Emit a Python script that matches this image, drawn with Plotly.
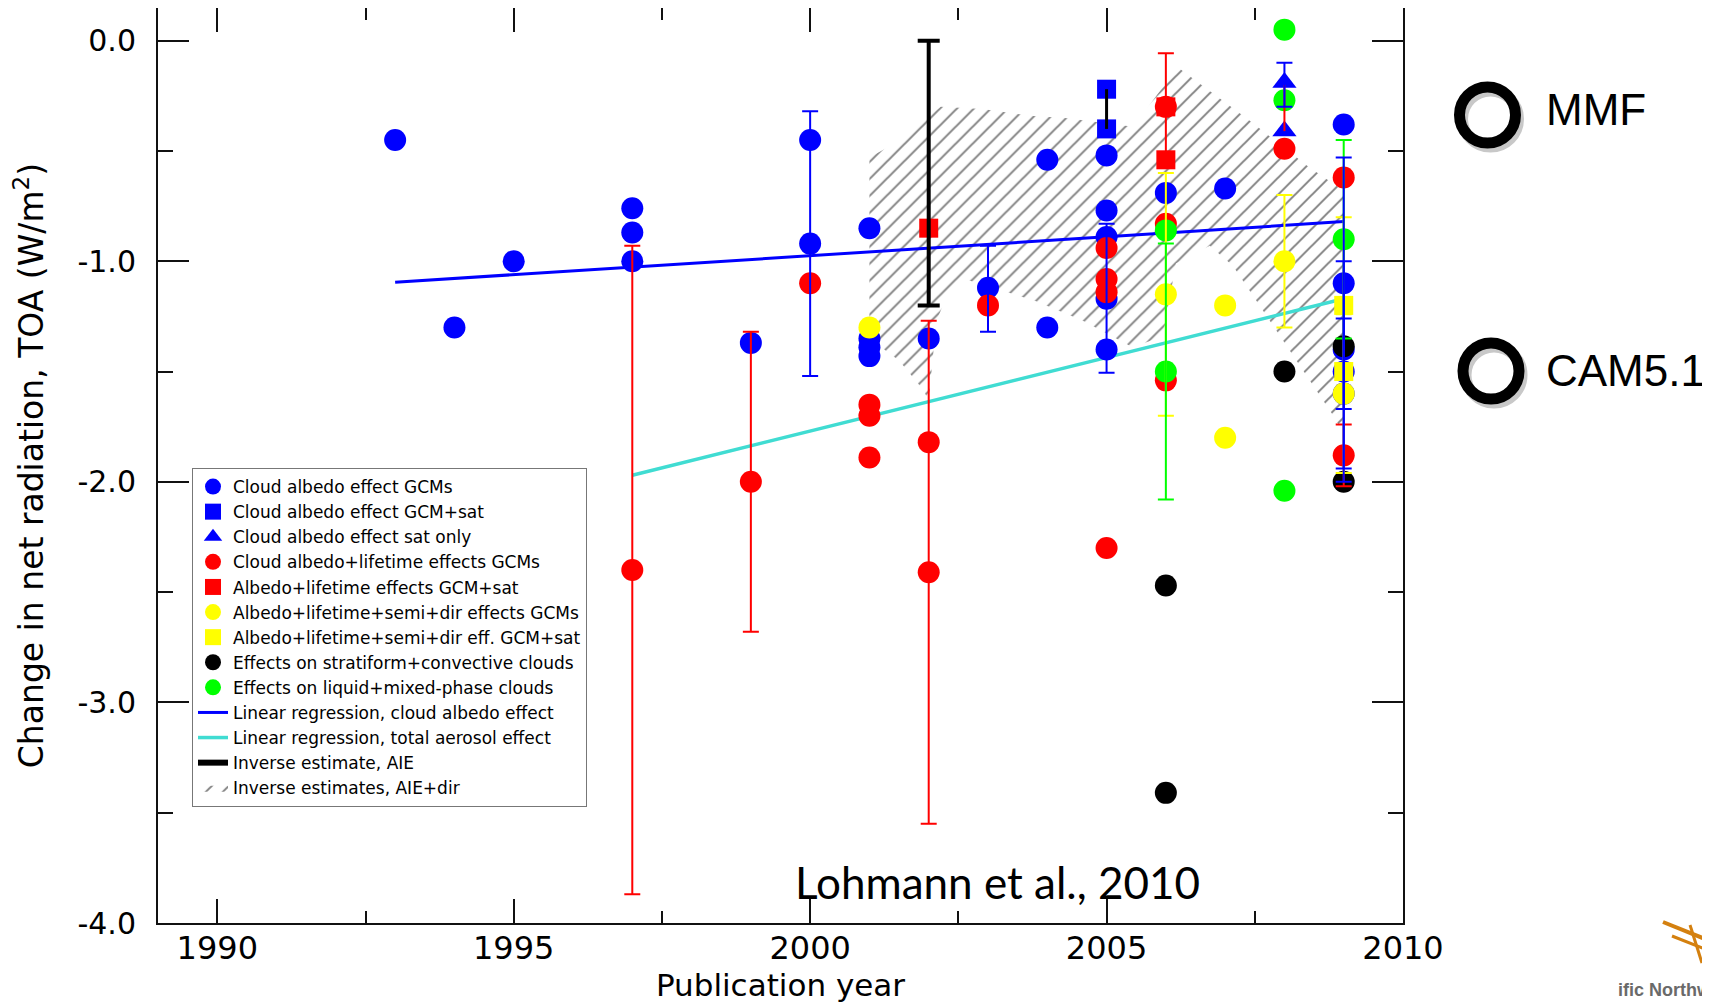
import plotly.graph_objects as go

# ---------------- data ----------------
blue_circ_x = [1993, 1994, 1995, 1997, 1997, 1997, 1999, 2000, 2000, 2001, 2001, 2001, 2001,
               2002, 2003, 2004, 2004, 2005, 2005, 2005, 2005, 2005, 2006, 2007,
               2009, 2009, 2009, 2009, 2009]
blue_circ_y = [-0.45, -1.30, -1.00, -0.76, -0.87, -1.00, -1.37, -0.45, -0.92, -0.85, -1.35, -1.39, -1.43,
               -1.35, -1.12, -0.54, -1.30, -0.52, -0.77, -0.89, -1.17, -1.40, -0.69, -0.67,
               -0.38, -1.10, -1.40, -1.50, -1.60]

blue_sq_x = [2005, 2005]
blue_sq_y = [-0.22, -0.40]

blue_tri_x = [2008, 2008]
blue_tri_y = [-0.19, -0.41]

red_circ_x = [1997, 1999, 2000, 2001, 2001, 2001, 2002, 2002, 2003, 2005, 2005, 2005, 2005,
              2006, 2006, 2006, 2008, 2009, 2009]
red_circ_y = [-2.40, -2.00, -1.10, -1.65, -1.70, -1.89, -1.82, -2.41, -1.20, -0.94, -1.08, -1.14, -2.30,
              -0.30, -0.83, -1.54, -0.49, -0.62, -1.88]

red_sq_x = [2002, 2006, 2006]
red_sq_y = [-0.85, -0.30, -0.54]

yellow_circ_x = [2001, 2006, 2007, 2007, 2008, 2009]
yellow_circ_y = [-1.30, -1.15, -1.20, -1.80, -1.00, -1.60]

yellow_sq_x = [2009, 2009]
yellow_sq_y = [-1.20, -1.50]

black_circ_x = [2006, 2006, 2008, 2009, 2009]
black_circ_y = [-2.47, -3.41, -1.50, -1.385, -2.00]

green_circ_x = [2006, 2006, 2008, 2008, 2008, 2009]
green_circ_y = [-0.86, -1.50, 0.05, -0.27, -2.04, -0.90]

# error bars (drawn on top of all markers)
blue_err_x = [2000, 2003, 2005, 2008, 2009, 2009, 2009]
blue_err_y = [-0.92, -1.12, -1.17, -0.20, -1.10, -1.50, -1.60]
blue_err_plus = [0.60, 0.19, 0.34, 0.10, 0.57, 0.50, 0.34]
blue_err_minus = [0.60, 0.20, 0.335, 0.10, 0.57, 0.50, 0.34]

red_err_x = [1997, 1999, 2002, 2006, 2009]
red_err_y = [-2.40, -2.00, -2.41, -0.30, -1.88]
red_err = [1.47, 0.68, 1.14, 0.243, 0.14]

red_seg_x = [2008]
red_seg_y = [-0.305]
red_seg_err = [0.105]

yellow_err_x = [2006, 2008, 2009, 2009]
yellow_err_y = [-1.15, -1.00, -1.20, -1.60]
yellow_err = [0.55, 0.30, 0.40, 0.36]

green_err_x = [2006, 2009]
green_err_y = [-1.50, -0.90]
green_err = [0.58, 0.45]

aie_x = [2002]
aie_y = [-0.60]
aie_err = [0.60]

black_seg_x = [2005]
black_seg_y = [-0.31]
black_seg_err = [0.09]

# regression lines
reg_albedo_x = [1993, 2009]
reg_albedo_y = [-1.095, -0.82]
reg_total_x = [1997, 2009]
reg_total_y = [-1.97, -1.17]

# inverse estimates AIE+dir (hatched region outline)
hatch_x = [2001.0, 2001.4, 2002.2, 2002.9, 2003.7, 2004.3, 2005.45, 2006.2, 2007.4, 2008.4, 2009.0,
           2009.0, 2008.8, 2007.97, 2007.13, 2006.74, 2006.17, 2005.95, 2005.44, 2004.6, 2003.8,
           2002.6, 2002.35, 2002.13, 2002.0, 2001.9, 2001.5, 2001.0]
hatch_y = [-0.53, -0.47, -0.30, -0.31, -0.34, -0.35, -0.39, -0.12, -0.36, -0.57, -0.68,
           -1.78, -1.69, -1.36, -1.02, -0.93, -1.01, -1.34, -1.39, -1.27, -1.18,
           -1.08, -1.13, -1.27, -1.63, -1.58, -1.45, -1.35]

# tick labels
y_tick_vals = [0, -1, -2, -3, -4]
y_tick_text = ["0.0", "-1.0", "-2.0", "-3.0", "-4.0"]
x_tick_vals = [1990, 1995, 2000, 2005, 2010]
x_tick_text = ["1990", "1995", "2000", "2005", "2010"]

names = ["Cloud albedo effect GCMs", "Cloud albedo effect GCM+sat", "Cloud albedo effect sat only",
         "Cloud albedo+lifetime effects GCMs", "Albedo+lifetime effects GCM+sat",
         "Albedo+lifetime+semi+dir effects GCMs", "Albedo+lifetime+semi+dir eff. GCM+sat",
         "Effects on stratiform+convective clouds", "Effects on liquid+mixed-phase clouds",
         "Linear regression, cloud albedo effect", "Linear regression, total aerosol effect",
         "Inverse estimate, AIE", "Inverse estimates, AIE+dir"]

BLUE, RED, YELLOW, BLACK, GREEN, CYAN = "#0000FF", "#FF0000", "#FFFF00", "#000000", "#00FF00", "#40DCD2"

fig = go.Figure()

# hatched region (behind everything)
fig.add_trace(go.Scatter(
    x=hatch_x, y=hatch_y, mode="lines", fill="toself", name=names[12], legendrank=13,
    line=dict(width=0, color="rgba(0,0,0,0)"), fillcolor="rgba(0,0,0,0)",
    fillpattern=dict(shape="/", fgcolor="black", bgcolor="rgba(0,0,0,0)", size=12, solidity=0.16),
    hoverinfo="skip"))

# regression lines
fig.add_trace(go.Scatter(x=reg_albedo_x, y=reg_albedo_y, mode="lines", name=names[9], legendrank=10,
                         line=dict(color=BLUE, width=3)))
fig.add_trace(go.Scatter(x=reg_total_x, y=reg_total_y, mode="lines", name=names[10], legendrank=11,
                         line=dict(color=CYAN, width=3.5)))

CS, SS, TS = 22, 19, 21
def pts(x, y, color, symbol, size, name, rank):
    fig.add_trace(go.Scatter(x=x, y=y, mode="markers", name=name, legendrank=rank,
                             marker=dict(color=color, symbol=symbol, size=size, line=dict(width=0))))

pts(blue_circ_x, blue_circ_y, BLUE, "circle", CS, names[0], 1)
pts(blue_sq_x, blue_sq_y, BLUE, "square", SS, names[1], 2)
pts(blue_tri_x, blue_tri_y, BLUE, "triangle-up", TS, names[2], 3)
pts(red_circ_x, red_circ_y, RED, "circle", CS, names[3], 4)
pts(red_sq_x, red_sq_y, RED, "square", SS, names[4], 5)
pts(yellow_circ_x, yellow_circ_y, YELLOW, "circle", CS, names[5], 6)
pts(yellow_sq_x, yellow_sq_y, YELLOW, "square", SS, names[6], 7)
pts(black_circ_x, black_circ_y, BLACK, "circle", CS, names[7], 8)
pts(green_circ_x, green_circ_y, GREEN, "circle", CS, names[8], 9)

def errs(x, y, plus, minus, color, thick=2, width=8, name=None, rank=None):
    show = name is not None
    fig.add_trace(go.Scatter(
        x=x, y=y, mode="lines" if show else "markers", showlegend=show, name=name,
        legendrank=rank if rank else 1000,
        line=dict(color=color, width=thick + 2),
        marker=dict(size=1, color="rgba(0,0,0,0)"),
        error_y=dict(type="data", symmetric=False, array=plus, arrayminus=minus,
                     color=color, thickness=thick, width=width),
        hoverinfo="skip"))

errs(red_err_x, red_err_y, red_err, red_err, RED)
errs(red_seg_x, red_seg_y, red_seg_err, red_seg_err, RED, width=0)
errs(yellow_err_x, yellow_err_y, yellow_err, yellow_err, YELLOW)
errs(green_err_x, green_err_y, green_err, green_err, GREEN)
errs(blue_err_x, blue_err_y, blue_err_plus, blue_err_minus, BLUE)
errs(black_seg_x, black_seg_y, black_seg_err, black_seg_err, BLACK, thick=3, width=0)
errs(aie_x, aie_y, aie_err, aie_err, BLACK, thick=4, width=11, name=names[11], rank=12)

# ---------------- layout ----------------
# the page adds an 8px body margin, so the figure is 8px smaller and all page
# positions are converted to figure positions by subtracting that offset
OFF = 8
W, H = 1710 - OFF, 1003 - OFF
L, R, T, B = 158 - OFF, 1403 - OFF, 0, 923 - OFF
def px(X):  # page x -> paper
    return (X - OFF - L) / (R - L)
def py(Y):  # page y -> paper
    return (B - (Y - OFF)) / (B - T)

FONT = "DejaVu Sans"
fig.update_layout(
    width=W, height=H,
    margin=dict(l=L, r=W - R, t=T, b=H - B, pad=0, autoexpand=False),
    paper_bgcolor="white", plot_bgcolor="white",
    font=dict(family=FONT, color="black"),
    legend=dict(x=px(192), y=py(468), xanchor="left", yanchor="top",
                bgcolor="white", bordercolor="#777", borderwidth=1,
                font=dict(family=FONT, size=17, color="black"),
                itemsizing="trace", tracegroupgap=0),
    showlegend=True,
)

fig.update_xaxes(
    range=[1989, 2010], tickvals=x_tick_vals, ticktext=x_tick_text,
    showgrid=False, zeroline=False,
    showline=True, linecolor="#111", linewidth=2, mirror="allticks",
    ticks="inside", ticklen=24, tickwidth=2, tickcolor="#111",
    minor=dict(dtick=2.5, tick0=1990, ticks="inside", ticklen=12, tickwidth=2, tickcolor="#111"),
    tickfont=dict(family=FONT, size=32, color="black"),
    ticklabelstandoff=-4,
    title=dict(text="Publication year", font=dict(family=FONT, size=31, color="black"), standoff=4),
)
fig.update_yaxes(
    range=[-4.0, (40.7 - OFF) / 220.7], tickvals=y_tick_vals, ticktext=y_tick_text,
    showgrid=False, zeroline=False,
    showline=True, linecolor="#111", linewidth=2, mirror="allticks",
    ticks="inside", ticklen=31, tickwidth=2, tickcolor="#111",
    minor=dict(dtick=0.5, tick0=0, ticks="inside", ticklen=15, tickwidth=2, tickcolor="#111"),
    tickfont=dict(family=FONT, size=30, color="black"),
    ticklabelstandoff=14,
    title=dict(text="Change in net radiation, TOA (W/m<sup>2</sup>)",
               font=dict(family=FONT, size=33, color="black"), standoff=33),
)

# citation
fig.add_annotation(x=px(793), y=py(882), xref="paper", yref="paper", xanchor="left", yanchor="middle",
                   text="Lohmann et al., 2010", showarrow=False,
                   font=dict(family="Lato", size=44, color="black"))

# model markers outside the plot (MMF, CAM5.1)
shapes = []
for cx, cy in [(1487.5, 115), (1491, 371)]:
    for dx, dy, col in [(3, 4, "#C8C8C8"), (0, 0, "black")]:
        shapes.append(dict(type="circle", xref="paper", yref="paper",
                           xsizemode="pixel", ysizemode="pixel",
                           xanchor=px(cx + dx), yanchor=py(cy + dy),
                           x0=-28, x1=28, y0=-28, y1=28,
                           line=dict(color=col, width=11), fillcolor="rgba(0,0,0,0)"))
# partial logo in the corner
for (xa, ya, xb, yb, w) in [(1663, 922, 1710, 941, 4), (1672, 936, 1710, 951, 3), (1690, 925, 1702, 963, 3)]:
    shapes.append(dict(type="line", xref="paper", yref="paper", x0=px(xa), y0=py(ya), x1=px(xb), y1=py(yb),
                       line=dict(color="#D4800F", width=w)))
fig.update_layout(shapes=shapes)

fig.add_annotation(x=px(1544), y=py(109), xref="paper", yref="paper", xanchor="left", yanchor="middle",
                   text="MMF", showarrow=False, font=dict(family="Liberation Sans", size=44, color="black"))
fig.add_annotation(x=px(1544), y=py(370), xref="paper", yref="paper", xanchor="left", yanchor="middle",
                   text="CAM5.1", showarrow=False, font=dict(family="Liberation Sans", size=44, color="black"))
fig.add_annotation(x=px(1616), y=py(1002), xref="paper", yref="paper", xanchor="left", yanchor="bottom",
                   text="<b>ific Northw</b>", showarrow=False,
                   font=dict(family="Liberation Sans", size=18, color="#6a6a6a"))

fig.write_html("out.html")
